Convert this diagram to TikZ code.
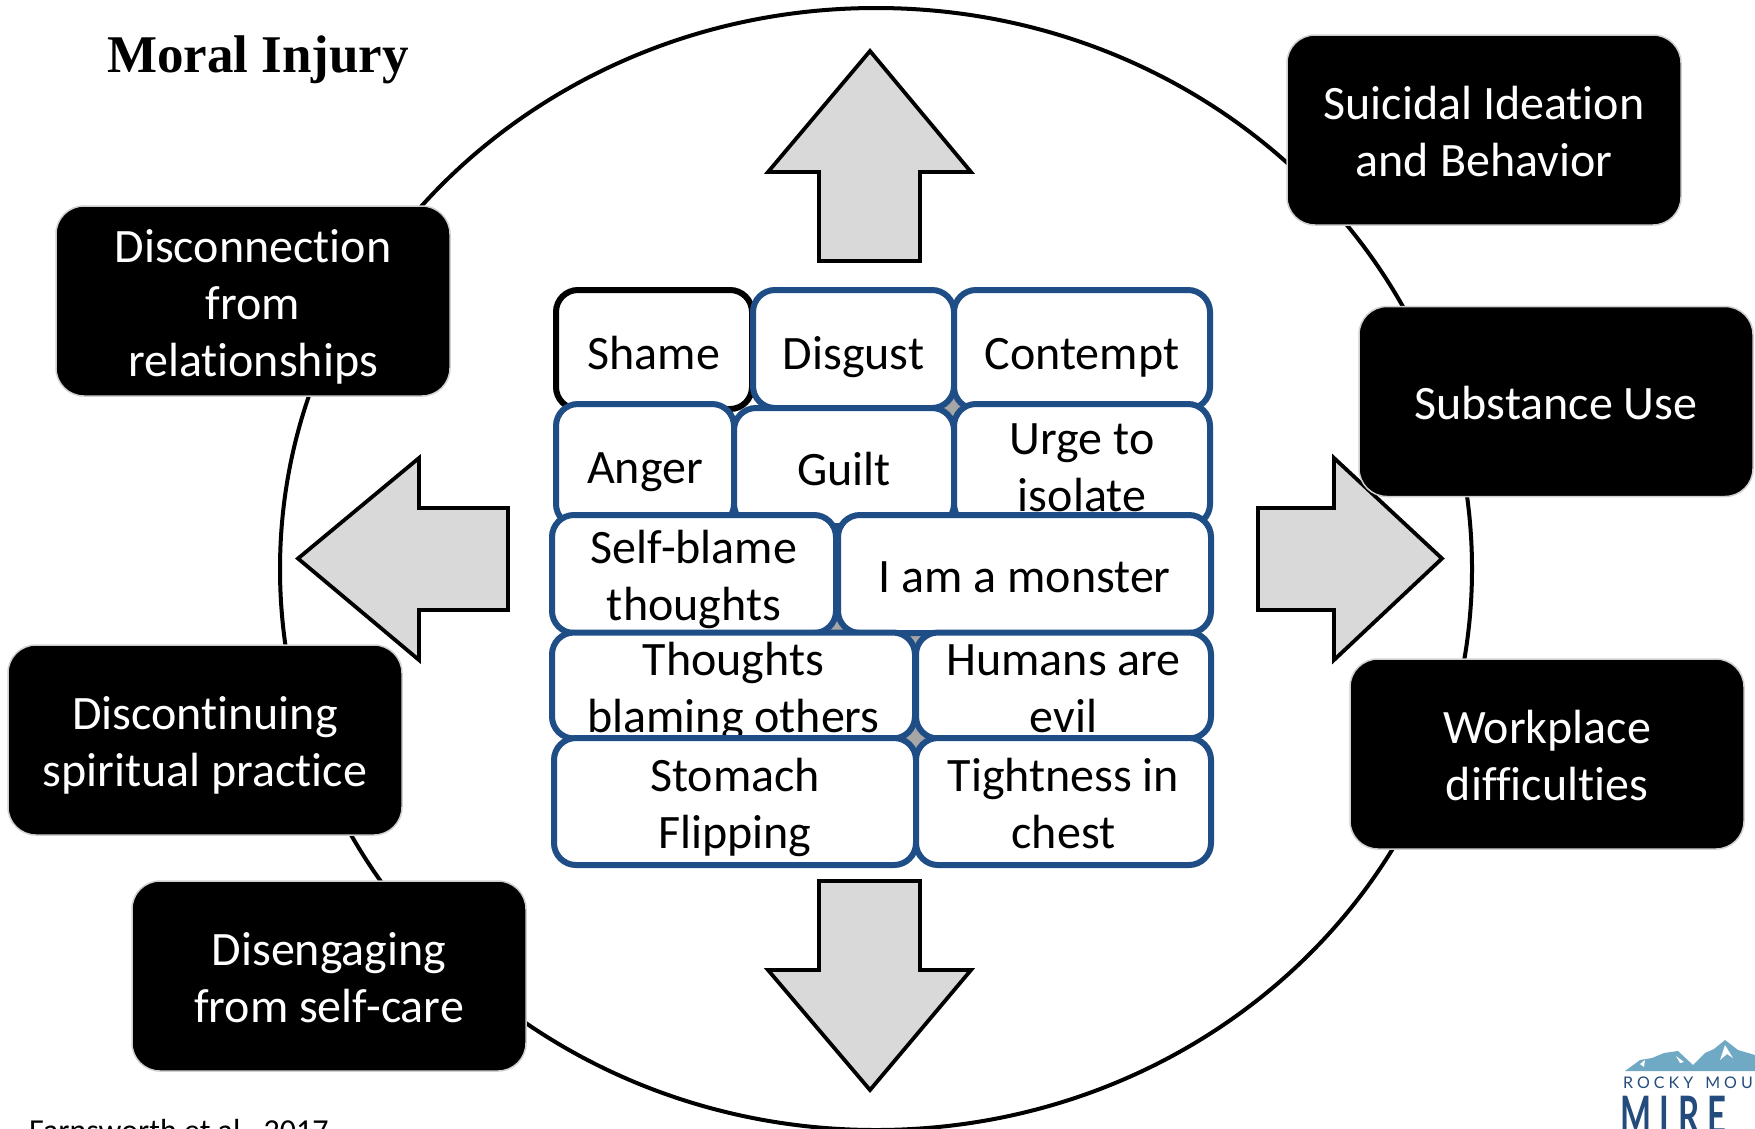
\documentclass[tikz,border=0pt]{standalone}
\usepackage{fontspec}
\setmainfont{Carlito}[Ligatures=NoCommon]
\newfontfamily\ttlfont{Liberation Serif}
\newfontfamily\logofont[LetterSpace=25]{Lato}
\newfontfamily\logobig[LetterSpace=26]{Lato}
\usetikzlibrary{shapes.geometric}
\definecolor{cellblue}{HTML}{1F4E86}
\definecolor{arrowgrey}{HTML}{D9D9D9}
\definecolor{boxedge}{HTML}{CFCFCF}
\definecolor{logosky}{HTML}{6FA9C4}
\definecolor{logonavy}{HTML}{234B7C}
\newcommand\ctext[2][13pt]{\raisebox{-#1}[0pt][0pt]{\begin{tabular}[c]{@{}c@{}}#2\end{tabular}}}
\tikzset{
  ring/.style={ellipse,draw=black,line width=4pt,fill=white,inner sep=0,outer sep=0},
  blackbox/.style={rectangle,rounded corners=28pt,fill=black,draw=boxedge,line width=1.5pt,
    text=white,inner sep=0,outer sep=0,minimum width=394pt,minimum height=190pt,
    font=\fontsize{48}{57}\selectfont},
  cell/.style={rectangle,rounded corners=22pt,fill=white,draw=cellblue,line width=6pt,
    text=black,inner sep=0,outer sep=0,font=\fontsize{48}{57}\selectfont},
  bigarrow/.style={fill=arrowgrey,draw=black,line width=3.8pt,miter limit=10},
}
\begin{document}
\begin{tikzpicture}[x=1pt,y=-1pt]
\path[use as bounding box,clip] (0,0) rectangle (1755,1128);
\fill[white] (0,0) rectangle (1755,1128);

\node[ring,minimum width=1192pt,minimum height=1122pt] (ringshape) at (876,569) {};

% arrows
\draw[bigarrow] (870,51) -- (971,172) -- (920,172) -- (920,261) -- (819,261) -- (819,172) -- (768,172) -- cycle;
\draw[bigarrow] (870,1090) -- (971,970) -- (920,970) -- (920,881) -- (819,881) -- (819,970) -- (768,970) -- cycle;
\draw[bigarrow] (298,558.5) -- (419,458) -- (419,508) -- (508,508) -- (508,610) -- (419,610) -- (419,660) -- cycle;
\draw[bigarrow] (1442,558.5) -- (1334,458) -- (1334,508) -- (1258,508) -- (1258,610) -- (1334,610) -- (1334,660) -- cycle;

% grey showing through the gaps between the cells
\fill[black!35] (825,350) rectangle (1130,800);

% cells, back to front
\node[cell,draw=black,minimum width=196pt,minimum height=119pt] (shame) at (654,349.5) {\ctext[15pt]{Shame}};
\node[cell,minimum width=201pt,minimum height=118pt] (disgust) at (853.5,349) {\ctext[15pt]{Disgust}};
\node[cell,minimum width=256pt,minimum height=119pt] (contempt) at (1082,349.5) {\ctext[15pt]{Contempt}};
\node[cell,minimum width=178pt,minimum height=122pt] (anger) at (645,465) {\ctext{Anger}};
\node[cell,minimum width=220pt,minimum height=118pt] (guilt) at (844,467) {\ctext{Guilt}};
\node[cell,minimum width=256pt,minimum height=122pt] (urge) at (1082,465) {\ctext{Urge to\\isolate}};
\node[cell,minimum width=284pt,minimum height=118pt] (selfblame) at (694,574) {\ctext{Self-blame\\thoughts}};
\node[cell,minimum width=373pt,minimum height=118pt] (monster) at (1024.5,574) {\ctext{I am a monster}};
\node[cell,minimum width=363pt,minimum height=106pt] (thoughts) at (733.5,685.5) {\ctext{Thoughts\\blaming others}};
\node[cell,minimum width=295pt,minimum height=106pt] (humans) at (1063.5,685.5) {\ctext{Humans are\\evil}};
\node[cell,minimum width=362pt,minimum height=127pt] (stomach) at (735,801.5) {\ctext{Stomach\\Flipping}};
\node[cell,minimum width=295pt,minimum height=127pt] (tightness) at (1063.5,801.5) {\ctext{Tightness in\\chest}};

% black outcome boxes
\node[blackbox] (suicidal) at (1484,130) {\ctext{Suicidal Ideation\\and Behavior}};
\node[blackbox] (disconnection) at (253,301) {\ctext{Disconnection\\from\\relationships}};
\node[blackbox] (substance) at (1556,401.5) {\ctext{Substance Use}};
\node[blackbox] (spiritual) at (205,740) {\ctext{Discontinuing\\spiritual practice}};
\node[blackbox] (workplace) at (1547,754) {\ctext{Workplace\\difficulties}};
\node[blackbox] (selfcare) at (329,976) {\ctext{Disengaging\\from self-care}};

% title and citation
\node[anchor=base west,inner sep=0,font=\fontsize{53}{60}\selectfont\ttlfont\bfseries] (title) at (107,72) {Moral Injury};
\node[anchor=base west,inner sep=0,font=\fontsize{32}{36}\selectfont] (citation) at (29,1141) {Farnsworth et al., 2017};

% logo
\fill[logosky] (1625,1071) -- (1640,1060) -- (1652,1058) -- (1664,1053) -- (1678,1051) -- (1693,1065)
  -- (1705,1053) -- (1714,1049) -- (1725,1040) -- (1738,1050) -- (1755,1055) -- (1755,1071) -- cycle;
\fill[white] (1676,1056) -- (1684,1062) -- (1680,1063) -- cycle;
\fill[white] (1725,1045) -- (1733,1058) -- (1727,1054) -- (1720,1060) -- cycle;
\fill[white] (1640,1064) -- (1645,1060) -- (1644,1067) -- cycle;
\node[anchor=base west,inner sep=0,text=logonavy,font=\fontsize{16}{18}\selectfont\logofont] (logoa) at (1623,1088) {ROCKY\hspace{4pt} MOU};
\node[anchor=base west,inner sep=0,text=logonavy,xscale=0.62,transform shape,font=\fontsize{53}{60}\selectfont\logobig\bfseries] (logob) at (1620,1134) {MIRE};
\end{tikzpicture}
\end{document}
